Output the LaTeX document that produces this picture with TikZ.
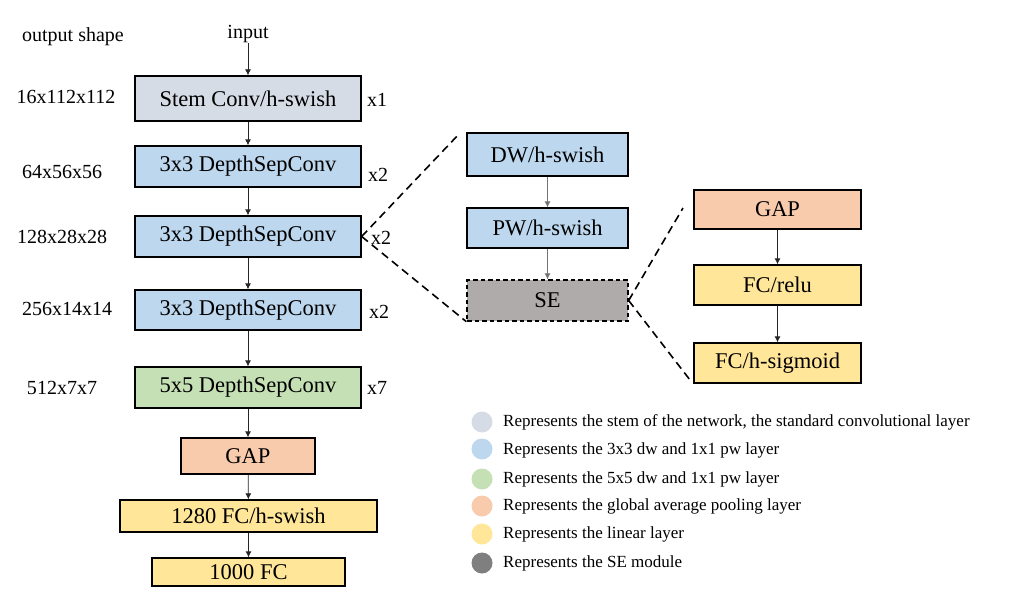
\documentclass[tikz,border=0pt]{standalone}
\usepackage{fontspec}
\setmainfont{Liberation Serif}
\usetikzlibrary{arrows.meta}
\definecolor{stemc}{HTML}{D6DCE5}
\definecolor{bluec}{HTML}{BDD7EE}
\definecolor{greenc}{HTML}{C5E0B4}
\definecolor{orangec}{HTML}{F8CBAD}
\definecolor{yellowc}{HTML}{FFE699}
\definecolor{sec}{HTML}{AFABAB}
\definecolor{sedark}{HTML}{7F7F7F}
\tikzset{
  blk/.style={draw=black, line width=1.3pt, rectangle, inner sep=0pt, font=\fontsize{22.5}{26}\selectfont},
  lbl/.style={font=\fontsize{20}{24}\selectfont, inner sep=0pt},
  leg/.style={font=\fontsize{17}{20}\selectfont, inner sep=0pt, anchor=west},
  dot/.style={circle, inner sep=0pt, minimum size=21pt},
  arr/.style={draw=black!85, line width=0.8pt, -{Latex[length=6pt,width=6pt]}},
  zoomline/.style={draw=black, line width=1.6pt, dash pattern=on 8pt off 5pt}
}
\begin{document}
\begin{tikzpicture}[x=1pt,y=-1pt]
\useasboundingbox (0,0) rectangle (1032,599);
% labels
\node[lbl] (os) at (73,37) {output shape};
\node[lbl] (in) at (248,34) {input};
% main column
\node[blk, fill=stemc, minimum width=226pt, minimum height=45pt] (stem) at (248,98.5) {Stem Conv/h-swish};
\node[blk, fill=bluec, minimum width=226pt, minimum height=41pt] (b2) at (248,166.5) {3x3 DepthSepConv};
\node[blk, fill=bluec, minimum width=226pt, minimum height=41pt] (b3) at (248,236.5) {3x3 DepthSepConv};
\node[blk, fill=bluec, minimum width=226pt, minimum height=40pt] (b4) at (248,310) {3x3 DepthSepConv};
\node[blk, fill=greenc, minimum width=226pt, minimum height=41pt] (b5) at (248,387.5) {5x5 DepthSepConv};
\node[blk, fill=orangec, minimum width=134pt, minimum height=36pt] (gap) at (248,456) {GAP};
\node[blk, fill=yellowc, minimum width=257pt, minimum height=32pt] (fc1) at (248.5,516) {1280 FC/h-swish};
\node[blk, fill=yellowc, minimum width=193pt, minimum height=28pt] (fc2) at (248.5,572) {1000 FC};
% shapes
\node[lbl] (s1) at (66,97) {16x112x112};
\node[lbl] (s2) at (62,172) {64x56x56};
\node[lbl] (s3) at (62,237) {128x28x28};
\node[lbl] (s4) at (67,309) {256x14x14};
\node[lbl] (s5) at (62,388) {512x7x7};
% repeats
\node[lbl, anchor=west] (r1) at (367,100) {x1};
\node[lbl, anchor=west] (r2) at (368,175) {x2};
\node[lbl, anchor=west] (r3) at (371,238) {x2};
\node[lbl, anchor=west] (r4) at (369,312) {x2};
\node[lbl, anchor=west] (r5) at (367,388) {x7};
% arrows main
\draw[arr] (in) -- (stem);
\draw[arr] (stem) -- (b2);
\draw[arr] (b2) -- (b3);
\draw[arr] (b3) -- (b4);
\draw[arr] (b4) -- (b5);
\draw[arr] (b5) -- (gap);
\draw[arr] (gap) -- (fc1);
\draw[arr] (fc1) -- (fc2);
% middle column
\node[blk, fill=bluec, minimum width=161pt, minimum height=43pt] (dw) at (547.5,154.5) {DW/h-swish};
\node[blk, fill=bluec, minimum width=161pt, minimum height=40pt] (pw) at (547.5,228) {PW/h-swish};
\node[blk, fill=sec, dash pattern=on 4.5pt off 3pt, minimum width=161pt, minimum height=41pt] (se) at (547.5,300.5) {SE};
\draw[arr, draw=black!55] (dw) -- (pw);
\draw[arr, draw=black!55] (pw) -- (se);
% right column
\node[blk, fill=orangec, minimum width=167pt, minimum height=39pt] (gap2) at (777.5,209.5) {GAP};
\node[blk, fill=yellowc, minimum width=167pt, minimum height=40pt] (fcr) at (777.5,285) {FC/relu};
\node[blk, fill=yellowc, minimum width=167pt, minimum height=40pt] (fcs) at (777.5,363) {FC/h-sigmoid};
\draw[arr] (gap2) -- (fcr);
\draw[arr] (fcr) -- (fcs);
% zoom lines
\coordinate (za) at (460,133);
\coordinate (zb) at (683,208);
\coordinate (zc) at (690,380);
\draw[zoomline] (b3.east) -- (za);
\draw[zoomline] (b3.east) -- (se.south west);
\draw[zoomline] (se.east) -- (zb);
\draw[zoomline] (se.east) -- (zc);
% legend
\node[dot, fill=stemc] (d1) at (482,422) {};
\node[dot, fill=bluec] (d2) at (482,449) {};
\node[dot, fill=greenc] (d3) at (482,479) {};
\node[dot, fill=orangec] (d4) at (482,506) {};
\node[dot, fill=yellowc] (d5) at (482,534) {};
\node[dot, fill=sedark] (d6) at (482,563) {};
\node[leg] (t1) at (503,422) {Represents the stem of the network, the standard convolutional layer};
\node[leg] (t2) at (503,450) {Represents the 3x3 dw and 1x1 pw layer};
\node[leg] (t3) at (503,479) {Represents the 5x5 dw and 1x1 pw layer};
\node[leg] (t4) at (503,506) {Represents the global average pooling layer};
\node[leg] (t5) at (503,534) {Represents the linear layer};
\node[leg] (t6) at (503,563) {Represents the SE module};
\end{tikzpicture}
\end{document}
